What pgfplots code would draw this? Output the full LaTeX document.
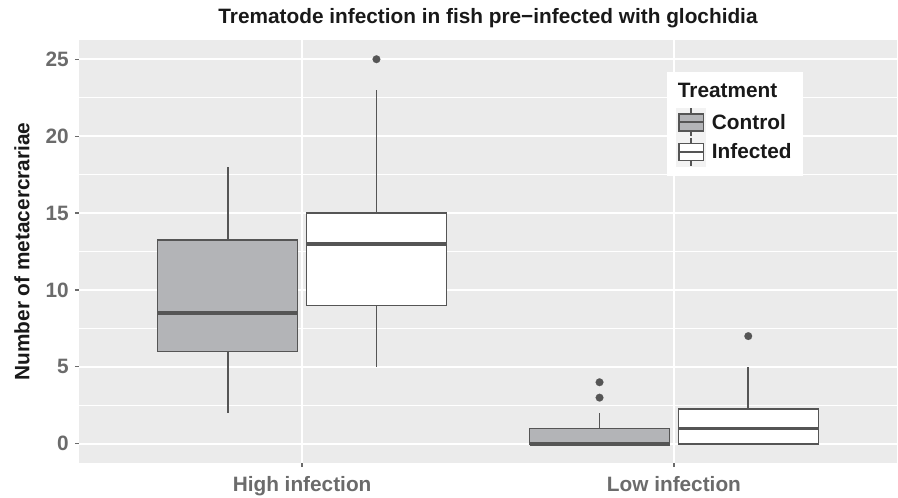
\documentclass[border=0pt]{standalone}
\usepackage{pgfplots}
\pgfplotsset{compat=1.18}
\usepgfplotslibrary{statistics}
\usepackage{fontspec}
\setmainfont{Liberation Sans}
\definecolor{panel}{HTML}{EBEBEB}
\definecolor{boxline}{HTML}{555555}
\definecolor{ctrl}{HTML}{B3B4B7}
\definecolor{keybg}{HTML}{F2F2F2}
\definecolor{ticklab}{HTML}{6B6B6B}
\newcommand{\bigfont}{\fontsize{15.6pt}{18pt}\selectfont\bfseries}
\pgfplotsset{
  bxstyle/.style={draw=boxline, line width=1.1pt,
    boxplot/draw direction=y,
    boxplot/whisker extend=0,
    boxplot/box extend=0.3765,
    boxplot/every whisker/.style={draw=boxline, line width=1.4pt},
    boxplot/every box/.style={draw=boxline, line width=1.1pt},
    boxplot/every median/.style={draw=boxline, line width=2.6pt},
    mark=*, mark size=2.9pt, mark options={fill=boxline, draw=boxline, line width=0.1pt}},
  ctrlkey/.style={legend image code/.code={
    \fill[keybg] (0pt,-10.5pt) rectangle (21pt,10.5pt);
    \draw[boxline, fill=ctrl, line width=1.1pt] (1.2pt,-6.4pt) rectangle (19.8pt,6.4pt);
    \draw[boxline, line width=1.5pt] (1.2pt,0pt) -- (19.8pt,0pt);
    \draw[boxline, line width=1.1pt] (10.5pt,6.4pt) -- (10.5pt,10.5pt);
    \draw[boxline, line width=1.1pt] (10.5pt,-6.4pt) -- (10.5pt,-10.5pt);}},
  infkey/.style={legend image code/.code={
    \fill[keybg] (0pt,-10.5pt) rectangle (21pt,10.5pt);
    \draw[boxline, fill=white, line width=1.1pt] (1.2pt,-6.4pt) rectangle (19.8pt,6.4pt);
    \draw[boxline, line width=1.5pt] (1.2pt,0pt) -- (19.8pt,0pt);
    \draw[boxline, line width=1.1pt] (10.5pt,6.4pt) -- (10.5pt,10.5pt);
    \draw[boxline, line width=1.1pt] (10.5pt,-6.4pt) -- (10.5pt,-10.5pt);}},
}
\begin{document}
\begin{tikzpicture}
\path[use as bounding box] (-59.25pt,-25.5pt) rectangle (614.25pt,347.25pt);
\begin{axis}[
  scale only axis, width=613.5pt, height=317.25pt,
  xmin=0.4, xmax=2.6, ymin=-1.25, ymax=26.25,
  axis background/.style={fill=panel},
  axis line style={draw=none},
  xtick={1,2}, xticklabels={High infection, Low infection},
  ytick={0,5,10,15,20,25},
  minor ytick={2.5,7.5,12.5,17.5,22.5},
  xmajorgrids, ymajorgrids, yminorgrids,
  major grid style={white, line width=1.5pt},
  minor grid style={white, line width=0.75pt},
  tick align=outside, major tick length=3pt, minor tick length=0pt,
  tick style={color=ticklab, line width=0.9pt},
  xtick pos=bottom, ytick pos=left,
  /pgf/number format/assume math mode=true,
  ticklabel style={font=\bigfont, text=ticklab},
  yticklabel style={anchor=east, inner sep=0pt, xshift=-4.5pt},
  xticklabel style={anchor=north, inner sep=0pt, yshift=-7pt},
  title={Trematode infection in fish pre−infected with glochidia},
  title style={at={(axis description cs:0.5,1)}, anchor=base, yshift=6pt, font=\bigfont, text=black!90},
  ylabel={Number of metacercrariae},
  every axis y label/.style={at={(axis description cs:-0.0697,0.5)}, rotate=90, anchor=center, font=\bigfont, text=black!90},
  legend style={at={(axis cs:1.981,24.17)}, anchor=north west, fill=white, draw=none,
    inner xsep=7pt, inner ysep=7pt, font=\bigfont, text=black!90, column sep=3pt,
    nodes={inner sep=1.5pt}},
  legend cell align=left,
]
\addlegendimage{legend image code/.code={\path[draw=none, fill=none] (0pt,-12pt) rectangle (0pt,7.5pt);}}
\addlegendentry{\hspace{-25.5pt}Treatment}

% High infection - Control
\addplot[bxstyle, fill=ctrl, ctrlkey, boxplot prepared={lower whisker=2, lower quartile=6, median=8.5, upper quartile=13.25, upper whisker=18, draw position=0.8}]
  coordinates {};
\addlegendentry{Control}
% High infection - Infected
\addplot[bxstyle, fill=white, infkey, boxplot prepared={lower whisker=5, lower quartile=9, median=13, upper quartile=15, upper whisker=23, draw position=1.2}]
  table[row sep=\\, y index=0] {data\\ 25\\};
\addlegendentry{Infected}
% Low infection - Control
\addplot[bxstyle, fill=ctrl, forget plot, boxplot prepared={lower whisker=0, lower quartile=0, median=0, upper quartile=1, upper whisker=2, draw position=1.8}]
  table[row sep=\\, y index=0] {data\\ 3\\ 4\\};
% Low infection - Infected
\addplot[bxstyle, fill=white, forget plot, boxplot prepared={lower whisker=0, lower quartile=0, median=1, upper quartile=2.25, upper whisker=5, draw position=2.2}]
  table[row sep=\\, y index=0] {data\\ 7\\};
\end{axis}
\end{tikzpicture}
\end{document}
